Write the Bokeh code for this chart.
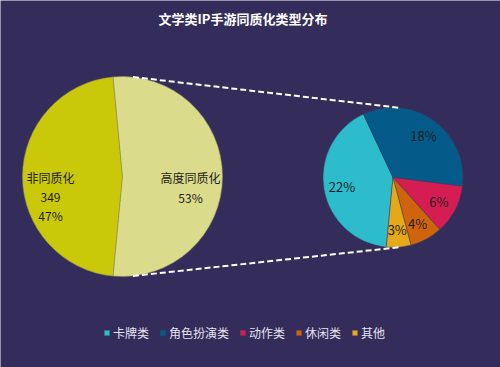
import math
from bokeh.plotting import figure
from bokeh.models import Range1d, ColumnDataSource, Legend, LegendItem
from bokeh.core.properties import value
from bokeh.embed import file_html
from bokeh.resources import INLINE

title = "文学类IP手游同质化类型分布"
main_labels = ["非同质化", "高度同质化"]
main_values = [47, 53]
main_counts = ["349", None]
main_colors = ["#c9c90a", "#dadb8b"]

sub_labels = ["卡牌类", "角色扮演类", "动作类", "休闲类", "其他"]
sub_values = [22, 18, 6, 4, 3]
sub_colors = ["#2cbccb", "#045b89", "#d61d53", "#d0640c", "#e6a718"]

BG = "#342c5b"
FONT = "Noto Sans CJK SC"
W, H = 500, 367

p = figure(width=W, height=H, output_backend="svg", toolbar_location=None,
           x_range=Range1d(0, W), y_range=Range1d(0, H),
           min_border=0, background_fill_color=BG, border_fill_color=BG)
p.axis.visible = False
p.grid.visible = False
p.outline_line_color = None

def Y(y):
    return H - y

# big pie
bx, by, br = 122, Y(176), 100
tot = sum(main_values)
frac0 = main_values[0] / tot
a0 = math.pi - frac0 * math.pi
starts, ends = [], []
a = a0
for v in main_values:
    e = a + v / tot * 2 * math.pi
    starts.append(a)
    ends.append(e)
    a = e
p.wedge(x=bx, y=by, radius=br, start_angle=starts, end_angle=ends,
        fill_color=main_colors, line_color="#8f8f50", line_width=0.6)

# small pie
sx, sy, sr = 392.5, Y(177), 70
stot = sum(sub_values)
s_start = math.radians(264.5)
ss, se, mids = [], [], []
a = s_start
for v in sub_values:
    e = a - v / stot * 2 * math.pi
    ss.append(e)
    se.append(a)
    mids.append((a + e) / 2)
    a = e
src = ColumnDataSource(dict(start=ss, end=se, color=sub_colors, label=sub_labels))
wr = p.wedge(x=sx, y=sy, radius=sr, start_angle="start", end_angle="end",
             fill_color="color", line_color="#3a3a5a", line_width=0.5, source=src)

# connector lines
ang = math.radians(84)
for sgn in (1, -1):
    x0 = bx + br * math.cos(ang)
    y0 = by + sgn * br * math.sin(ang)
    x1 = sx + sr * math.cos(ang)
    y1 = sy + sgn * sr * math.sin(ang)
    p.line([x0, x1], [y0, y1], line_color="white", line_width=2, line_dash="6 3")

# big labels
txt = dict(text_font=value(FONT), text_font_size="12px", text_color="#1e1e1e",
           text_align="center", text_baseline="middle")
lx = bx - 0.72 * br
p.text(x=[lx, lx, lx], y=[by - 1, by - 21, by - 39],
       text=[main_labels[0], main_counts[0], f"{main_values[0]}%"], **txt)
rx = bx + 0.68 * br
p.text(x=[rx, rx], y=[by - 1, by - 21],
       text=[main_labels[1], f"{main_values[1]}%"], **txt)

# small labels
lr = 0.74 * sr
p.text(x=[sx + lr * math.cos(m) for m in mids], y=[sy + lr * math.sin(m) for m in mids],
       text=[f"{v}%" for v in sub_values],
       text_font=value(FONT), text_font_size="13px", text_color="#1e1e1e",
       text_align="center", text_baseline="middle")

# title
p.text(x=[242.5], y=[Y(18)], text=[title], text_font=value(FONT), text_font_size="13px",
       text_font_style="bold", text_color="white", text_align="center", text_baseline="middle")

legend = Legend(items=[LegendItem(label=l, renderers=[wr], index=i) for i, l in enumerate(sub_labels)],
                orientation="horizontal", location=(103, 26), padding=0, margin=0,
                spacing=10, glyph_width=7, glyph_height=7, label_standoff=3,
                label_height=14, label_text_font=FONT, label_text_font_size="12px",
                label_text_color="#e4e4ee", background_fill_alpha=0,
                border_line_color=None, label_text_baseline="middle")
p.add_layout(legend)

open("out.html", "w").write(file_html(p, INLINE))
